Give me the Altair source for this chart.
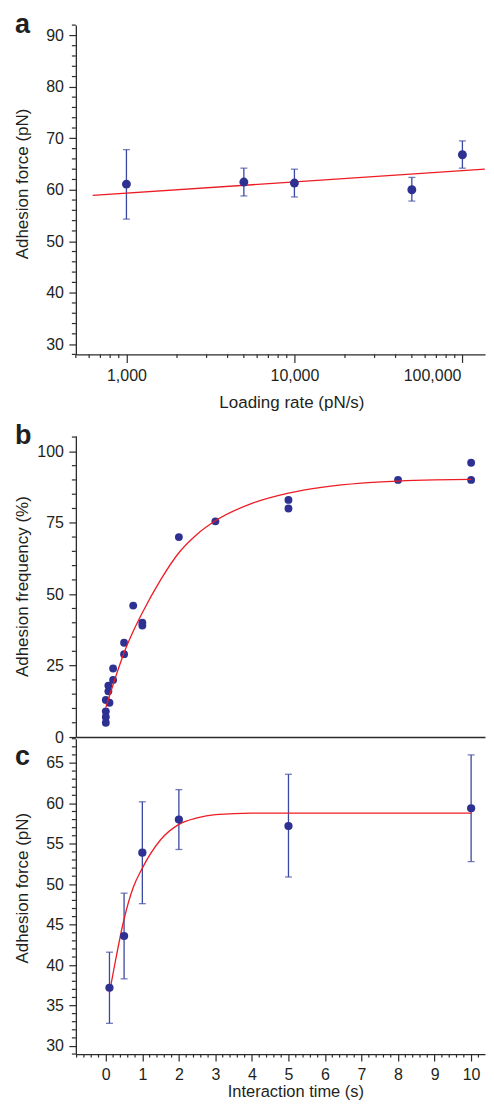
import altair as alt
import pandas as pd

FONT = "Liberation Sans"
INK = "#231f20"
AXC = "#2b2b2b"
DOT = "#2e3192"
BAR = "#3b48a3"
RED = "#ed1c24"

W = 410
HA, HB, HC = 330, 302, 316
GAP_AB = 81
GAP_BC = 1.7

panel_letters = ["a", "b", "c"]

# ---------------- panel a ----------------
a_rate = [1000, 5000, 10000, 50000, 100000]
a_force = [61.1, 61.5, 61.3, 60.0, 66.8]
a_lo = [54.3, 58.8, 58.6, 57.8, 64.2]
a_hi = [67.8, 64.2, 64.0, 62.4, 69.5]
a_fit_rate = [630, 136000]
a_fit_force = [58.9, 64.0]
a_x_major = [1000, 10000, 100000]
a_x_minor = [500, 600, 700, 800, 900, 2000, 3000, 4000, 5000, 6000, 7000, 8000, 9000,
             20000, 30000, 40000, 50000, 60000, 70000, 80000, 90000]
a_y_major = [30, 40, 50, 60, 70, 80, 90]
a_y_minor = [28, 32, 34, 36, 38, 42, 44, 46, 48, 52, 54, 56, 58, 62, 64, 66, 68,
             72, 74, 76, 78, 82, 84, 86, 88, 92]

# ---------------- panel b ----------------
b_time = [0.0, 0.0, 0.0, 0.0, 0.1, 0.07, 0.07, 0.2, 0.2, 0.5, 0.5, 0.75, 1.0, 1.0,
          2.0, 3.0, 5.0, 5.0, 8.0, 10.0, 10.0]
b_freq = [5.0, 7.0, 9.0, 13.0, 12.0, 16.0, 18.0, 20.0, 24.0, 29.0, 33.0, 46.0, 39.0, 40.0,
          70.0, 75.5, 80.0, 83.0, 90.0, 90.0, 96.0]
b_fit_time = [0.0, 0.25, 0.5, 0.75, 1.0, 1.5, 2.0, 2.5, 3.0, 4.0, 5.0, 6.0, 7.0, 8.0, 9.0, 10.0]
b_fit_freq = [10.3, 20.3, 29.5, 37.0, 43.5, 55.0, 64.5, 71.0, 75.7, 81.8, 85.4, 87.6, 88.9,
              89.6, 90.0, 90.2]
b_y_major = [0, 25, 50, 75, 100]
b_y_minor = [5, 10, 15, 20, 30, 35, 40, 45, 55, 60, 65, 70, 80, 85, 90, 95, 105]

# ---------------- panel c ----------------
c_time = [0.1, 0.5, 1.0, 2.0, 5.0, 10.0]
c_force = [37.2, 43.6, 53.9, 58.0, 57.2, 59.4]
c_lo = [32.8, 38.3, 47.6, 54.3, 50.9, 52.8]
c_hi = [41.6, 48.9, 60.2, 61.7, 63.6, 66.0]
c_fit_time = [0.1, 0.25, 0.5, 0.75, 1.0, 1.5, 2.0, 2.5, 3.0, 4.0, 5.0, 10.0]
c_fit_force = [36.6, 40.2, 45.7, 49.6, 52.0, 55.5, 57.4, 58.2, 58.6, 58.8, 58.8, 58.8]
c_x_major = [0, 1, 2, 3, 4, 5, 6, 7, 8, 9, 10]
c_x_minor = [-0.8, -0.6, -0.4, -0.2, 0.2, 0.4, 0.6, 0.8, 1.2, 1.4, 1.6, 1.8, 2.2, 2.4, 2.6,
             2.8, 3.2, 3.4, 3.6, 3.8, 4.2, 4.4, 4.6, 4.8, 5.2, 5.4, 5.6, 5.8, 6.2, 6.4, 6.6,
             6.8, 7.2, 7.4, 7.6, 7.8, 8.2, 8.4, 8.6, 8.8, 9.2, 9.4, 9.6, 9.8, 10.2]
c_y_major = [30, 35, 40, 45, 50, 55, 60, 65]
c_y_minor = [29, 31, 32, 33, 34, 36, 37, 38, 39, 41, 42, 43, 44, 46, 47, 48, 49, 51, 52, 53,
             54, 56, 57, 58, 59, 61, 62, 63, 64, 66, 67, 68]

# ---------------- helpers ----------------
def yaxis(values, title, title_y):
    return alt.Axis(values=values, title=title, titleX=-53, titleY=title_y,
                    titleBaseline="middle", titleAlign="center", titleAngle=270,
                    tickSize=7, labelPadding=5.5, format="d", grid=False)


def minor_y(vals, Y):
    return alt.Chart(pd.DataFrame({"y": vals})).mark_rule(color=AXC, strokeWidth=1.2).encode(
        y=Y, x=alt.value(-4), x2=alt.value(0))


def minor_x(vals, X, h):
    return alt.Chart(pd.DataFrame({"x": vals})).mark_rule(color=AXC, strokeWidth=1.2).encode(
        x=X, y=alt.value(h), y2=alt.value(h + 3.5))


def letter(ch, yb):
    return alt.Chart(pd.DataFrame({"t": [ch]})).mark_text(
        font=FONT, fontSize=27, fontWeight="bold", align="left", baseline="alphabetic",
        color=INK).encode(x=alt.value(-61), y=alt.value(yb), text="t:N")


# ---------------- panel a chart ----------------
sx_a = alt.Scale(type="log", domain=[500, 136300], nice=False)
sy_a = alt.Scale(domain=[28, 92], nice=False, zero=False)
ax_a = alt.Axis(values=a_x_major, format=",d", tickSize=8, labelPadding=5, grid=False,
                labelFlush=35, labelFlushOffset=-1.5,
                title="Loading rate (pN/s)", titleX=216, titleY=40, titleBaseline="top")
ay_a = yaxis(a_y_major, "Adhesion force (pN)", 158.7)
Xa = alt.X("x:Q", scale=sx_a, axis=ax_a)

df_a = pd.DataFrame({"x": a_rate, "y": a_force, "lo": a_lo, "hi": a_hi})
df_afit = pd.DataFrame({"x": a_fit_rate, "y": a_fit_force})

a_err = alt.Chart(df_a).mark_rule(color=BAR, strokeWidth=1.3).encode(
    x=Xa, y=alt.Y("lo:Q", scale=sy_a, axis=ay_a), y2="hi:Q")
a_cap_lo = alt.Chart(df_a).mark_tick(orient="horizontal", size=7, thickness=1.3, color=BAR).encode(
    x=Xa, y=alt.Y("lo:Q", scale=sy_a, axis=ay_a))
a_cap_hi = alt.Chart(df_a).mark_tick(orient="horizontal", size=7, thickness=1.3, color=BAR).encode(
    x=Xa, y=alt.Y("hi:Q", scale=sy_a, axis=ay_a))
a_fit = alt.Chart(df_afit).mark_line(color=RED, strokeWidth=1.3).encode(
    x=Xa, y=alt.Y("y:Q", scale=sy_a, axis=ay_a))
a_pts = alt.Chart(df_a).mark_circle(size=80, color=DOT, opacity=1).encode(
    x=Xa, y=alt.Y("y:Q", scale=sy_a, axis=ay_a))
anchor = alt.Chart(pd.DataFrame({"t": [0]})).mark_rule(opacity=0, strokeWidth=1).encode(
    x=alt.value(-67.5), x2=alt.value(-60), y=alt.value(-15.8), y2=alt.value(-15.8))

panel_a = alt.layer(
    a_err, a_cap_lo, a_cap_hi, a_fit, a_pts,
    minor_y(a_y_minor, alt.Y("y:Q", scale=sy_a, axis=ay_a)),
    minor_x(a_x_minor, Xa, HA),
    letter(panel_letters[0], 8.4), anchor,
).properties(width=W, height=HA)

# ---------------- panel b chart ----------------
sx_t = alt.Scale(domain=[-0.82, 10.38], nice=False, zero=False)
sy_b = alt.Scale(domain=[0, 105.5], nice=False, zero=False)
ax_b = alt.Axis(ticks=False, labels=False, title=None, grid=False)
ay_b = yaxis(b_y_major, "Adhesion frequency (%)", 150.8)
Xb = alt.X("x:Q", scale=sx_t, axis=ax_b)

df_b = pd.DataFrame({"x": b_time, "y": b_freq})
df_bfit = pd.DataFrame({"x": b_fit_time, "y": b_fit_freq})

b_fit = alt.Chart(df_bfit).mark_line(color=RED, strokeWidth=1.3, interpolate="monotone").encode(
    x=Xb, y=alt.Y("y:Q", scale=sy_b, axis=ay_b))
b_pts = alt.Chart(df_b).mark_circle(size=62, color=DOT, opacity=1).encode(
    x=Xb, y=alt.Y("y:Q", scale=sy_b, axis=ay_b))

panel_b = alt.layer(
    b_pts, b_fit,
    minor_y(b_y_minor, alt.Y("y:Q", scale=sy_b, axis=ay_b)),
    letter(panel_letters[1], 8.3),
).properties(width=W, height=HB)

# ---------------- panel c chart ----------------
sy_c = alt.Scale(domain=[29, 68], nice=False, zero=False)
ax_c = alt.Axis(values=c_x_major, format="d", tickSize=7, labelPadding=5.5, grid=False,
                title="Interaction time (s)", titleX=220, titleY=29.5, titleBaseline="top",
                titleFontSize=16.5)
ay_c = yaxis(c_y_major, "Adhesion force (pN)", 149.3)
Xc = alt.X("x:Q", scale=sx_t, axis=ax_c)

df_c = pd.DataFrame({"x": c_time, "y": c_force, "lo": c_lo, "hi": c_hi})
df_cfit = pd.DataFrame({"x": c_fit_time, "y": c_fit_force})

c_err = alt.Chart(df_c).mark_rule(color=BAR, strokeWidth=1.3).encode(
    x=Xc, y=alt.Y("lo:Q", scale=sy_c, axis=ay_c), y2="hi:Q")
c_cap_lo = alt.Chart(df_c).mark_tick(orient="horizontal", size=7, thickness=1.3, color=BAR).encode(
    x=Xc, y=alt.Y("lo:Q", scale=sy_c, axis=ay_c))
c_cap_hi = alt.Chart(df_c).mark_tick(orient="horizontal", size=7, thickness=1.3, color=BAR).encode(
    x=Xc, y=alt.Y("hi:Q", scale=sy_c, axis=ay_c))
c_fit = alt.Chart(df_cfit).mark_line(color=RED, strokeWidth=1.3, interpolate="monotone").encode(
    x=Xc, y=alt.Y("y:Q", scale=sy_c, axis=ay_c))
c_pts = alt.Chart(df_c).mark_circle(size=68, color=DOT, opacity=1).encode(
    x=Xc, y=alt.Y("y:Q", scale=sy_c, axis=ay_c))

panel_c = alt.layer(
    c_err, c_cap_lo, c_cap_hi, c_fit, c_pts,
    minor_y(c_y_minor, alt.Y("y:Q", scale=sy_c, axis=ay_c)),
    minor_x(c_x_minor, Xc, HC),
    letter(panel_letters[2], 26.6),
).properties(width=W, height=HC)

spacer = alt.Chart(pd.DataFrame({"t": [0]})).mark_point(opacity=0).encode(
    x=alt.value(0), y=alt.value(0)).properties(width=W, height=GAP_AB - 2 * GAP_BC)

chart = alt.vconcat(panel_a, spacer, panel_b, panel_c, spacing=GAP_BC, bounds="flush").properties(
    padding={"left": 0, "top": 0, "right": -2, "bottom": 0}
).configure_view(stroke=None).configure_axis(
    domainColor=AXC, domainWidth=1.3, tickColor=AXC, tickWidth=1.2,
    labelFont=FONT, labelFontSize=16, labelColor=INK,
    titleFont=FONT, titleFontSize=17, titleFontWeight="normal", titleColor=INK,
)

chart.save("out.html", embed_options={"renderer": "svg", "actions": False})
